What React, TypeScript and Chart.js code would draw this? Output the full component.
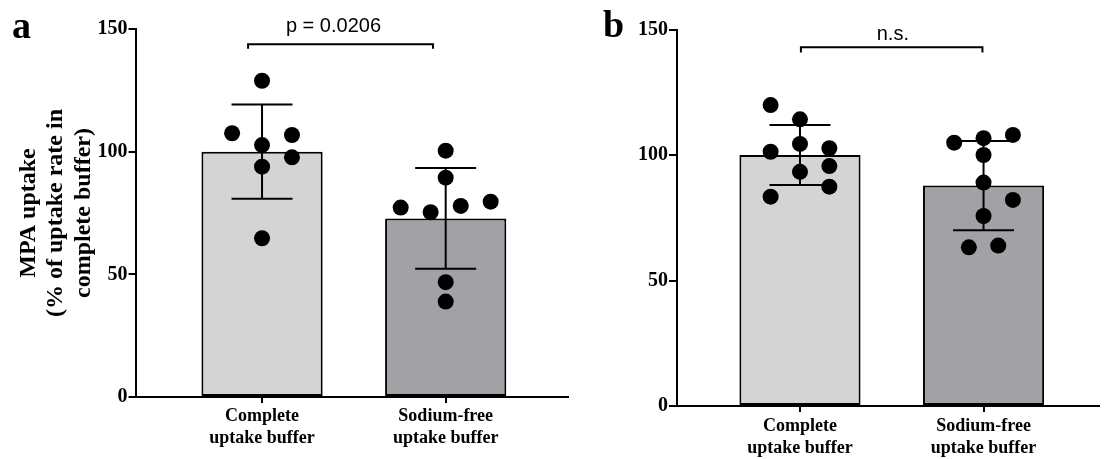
import React, { useEffect, useRef } from "react";
import { Chart, registerables } from "chart.js";

Chart.register(...registerables);

// ---------- data ----------
const categoryLabels = [
  ["Complete", "uptake buffer"],
  ["Sodium-free", "uptake buffer"],
];
const yTickValues = [0, 50, 100, 150];
const barColors = ["#d4d4d4", "#a2a2a6"];
const yTitleA = ["MPA uptake", "(% of uptake rate in", "complete buffer)"];

// Panel a
const meanA = [100, 72.8];
const sdA = [19.2, 20.5];
const completeA = [128.9, 107.5, 106.8, 102.7, 97.7, 93.9, 64.7];
const completeAJitter = [0, -0.163, 0.163, 0, 0.163, 0, 0];
const sodiumFreeA = [100.4, 89.4, 77.2, 75.3, 77.9, 79.6, 46.8, 38.9];
const sodiumFreeAJitter = [0, 0, -0.245, -0.082, 0.082, 0.245, 0, 0];
const statLabelA = "p = 0.0206";

// Panel b
const meanB = [100, 87.8];
const sdB = [12, 17.8];
const completeB = [119.9, 114.2, 104.4, 101.3, 102.7, 95.6, 93.3, 87.4, 83.4];
const completeBJitter = [-0.16, 0, 0, -0.16, 0.16, 0.16, 0, 0.16, -0.16];
const sodiumFreeB = [104.9, 106.7, 108.0, 100.0, 89.0, 82.1, 75.7, 63.2, 63.9];
const sodiumFreeBJitter = [-0.16, 0, 0.16, 0, 0, 0.16, 0, -0.08, 0.08];
const statLabelB = "n.s.";

const SERIF = "'Liberation Serif', 'Times New Roman', serif";
const SANS = "'Liberation Sans', Arial, sans-serif";

const annotPlugin = {
  id: "annot",
  afterDatasetDraw(chart: any, args: any, opts: any) {
    if (args.index !== 0) return;
    const { ctx } = chart;
    const x = chart.scales.x;
    const y = chart.scales.y;
    ctx.save();
    ctx.strokeStyle = "#000";
    ctx.lineWidth = 2;
    opts.means.forEach((m: number, i: number) => {
      const cx = x.getPixelForValue(i);
      const top = y.getPixelForValue(m + opts.sds[i]);
      const bot = y.getPixelForValue(m - opts.sds[i]);
      const hw = x.getPixelForValue(i + opts.capHalf) - cx;
      ctx.beginPath();
      ctx.moveTo(cx, top);
      ctx.lineTo(cx, bot);
      ctx.moveTo(cx - hw, top);
      ctx.lineTo(cx + hw, top);
      ctx.moveTo(cx - hw, bot);
      ctx.lineTo(cx + hw, bot);
      ctx.stroke();
    });
    ctx.restore();
  },
  afterDraw(chart: any, _args: any, opts: any) {
    const { ctx } = chart;
    const x = chart.scales.x;
    const y = chart.scales.y;
    const b = opts.bracket;
    ctx.save();
    ctx.strokeStyle = "#000";
    ctx.lineWidth = 2;
    const x1 = x.getPixelForValue(b.from);
    const x2 = x.getPixelForValue(b.to);
    const yy = y.getPixelForValue(b.y);
    const yd = y.getPixelForValue(b.yEnd);
    ctx.beginPath();
    ctx.moveTo(x1, yd);
    ctx.lineTo(x1, yy);
    ctx.lineTo(x2, yy);
    ctx.lineTo(x2, yd);
    ctx.stroke();
    ctx.fillStyle = "#000";
    ctx.font = `20px ${SANS}`;
    ctx.textAlign = "center";
    ctx.textBaseline = "alphabetic";
    ctx.fillText(b.label, x.getPixelForValue(b.labelX), y.getPixelForValue(b.labelY));
    ctx.font = `bold 38px ${SERIF}`;
    ctx.textAlign = "left";
    ctx.fillText(opts.letter, opts.letterX, opts.letterY);
    ctx.restore();
  },
};

function makeConfig(p: any) {
  return {
    type: "bar",
    data: {
      datasets: [
        {
          type: "bar",
          order: 2,
          data: p.means.map((m: number, i: number) => ({ x: i, y: m })),
          backgroundColor: barColors,
          borderColor: "#000",
          borderWidth: 2,
          borderSkipped: false,
          barPercentage: 0.66,
          categoryPercentage: 1,
        },
        {
          type: "scatter",
          order: 1,
          data: p.groups.flatMap((g: number[], gi: number) =>
            g.map((v, k) => ({ x: gi + p.jitters[gi][k], y: v }))
          ),
          pointRadius: 8,
          pointBackgroundColor: "#000",
          pointBorderWidth: 0,
          showLine: false,
        },
      ],
    },
    options: {
      responsive: false,
      animation: false,
      events: [],
      layout: { padding: { top: p.padTop, right: p.padRight, left: 0, bottom: 0 } },
      plugins: {
        legend: { display: false },
        tooltip: { enabled: false },
        annot: {
          means: p.means,
          sds: p.sds,
          capHalf: 0.166,
          bracket: p.bracket,
          letter: p.letter,
          letterX: p.letterX,
          letterY: p.letterY,
        },
      },
      scales: {
        x: {
          type: "linear",
          min: p.xMin,
          max: p.xMax,
          offset: false,
          afterBuildTicks: (s: any) => {
            s.ticks = [0, 1].map((v) => ({ value: v }));
          },
          afterFit: (s: any) => {
            s.height = p.xHeight;
          },
          grid: {
            drawOnChartArea: false,
            drawTicks: true,
            tickLength: 6,
            color: "#000",
            lineWidth: 2,
            offset: false,
          },
          border: { display: true, color: "#000", width: 2 },
          ticks: {
            color: "#000",
            autoSkip: false,
            maxRotation: 0,
            padding: p.xPad,
            font: { family: SERIF, size: 18, weight: "bold", lineHeight: 1.2 },
            callback: (v: number) => categoryLabels[v] ?? "",
          },
        },
        y: {
          type: "linear",
          min: 0,
          max: 150,
          afterBuildTicks: (s: any) => {
            s.ticks = yTickValues.map((v) => ({ value: v }));
          },
          afterFit: (s: any) => {
            s.width = p.yWidth;
          },
          grid: {
            drawOnChartArea: false,
            drawTicks: true,
            tickLength: p.yTickLen,
            color: "#000",
            lineWidth: 2,
          },
          border: { display: true, color: "#000", width: 2 },
          ticks: {
            color: "#000",
            padding: 1,
            font: { family: SERIF, size: 20, weight: "bold" },
          },
          title: {
            display: !!p.yTitle,
            text: p.yTitle || "",
            color: "#000",
            font: { family: SERIF, size: 24, weight: "bold", lineHeight: 1.146 },
            padding: { top: 15, bottom: 0 },
          },
        },
      },
    },
    plugins: [annotPlugin],
  };
}

const panelA = {
  means: meanA,
  sds: sdA,
  groups: [completeA, sodiumFreeA],
  jitters: [completeAJitter, sodiumFreeAJitter],
  xMin: -0.689,
  xMax: 1.666,
  xHeight: 62,
  yWidth: 135.5,
  yTickLen: 7,
  xPad: 3,
  padTop: 29,
  padRight: 12,
  yTitle: yTitleA,
  letter: "a",
  letterX: 12,
  letterY: 38,
  bracket: { from: -0.076, to: 0.931, y: 143.8, yEnd: 141.9, label: statLabelA, labelX: 0.389, labelY: 148.9 },
};

const panelB = {
  means: meanB,
  sds: sdB,
  groups: [completeB, sodiumFreeB],
  jitters: [completeBJitter, sodiumFreeBJitter],
  xMin: -0.67,
  xMax: 1.629,
  xHeight: 53,
  yWidth: 97,
  yTickLen: 8,
  xPad: 4,
  padTop: 29.5,
  padRight: 0,
  yTitle: null,
  letter: "b",
  letterX: 23,
  letterY: 36.7,
  bracket: { from: 0.005, to: 0.994, y: 142.9, yEnd: 140.8, label: statLabelB, labelX: 0.506, labelY: 145.8 },
};

function Panel({ params, left, width }: { params: any; left: number; width: number }) {
  const ref = useRef<HTMLCanvasElement>(null);
  useEffect(() => {
    if (!ref.current) return;
    const chart = new Chart(ref.current, makeConfig(params) as any);
    return () => chart.destroy();
  }, [params]);
  return (
    <canvas
      ref={ref}
      width={width}
      height={459}
      style={{ position: "absolute", left, top: 0, width, height: 459 }}
    />
  );
}

export default function App() {
  return (
    <div
      style={{
        position: "fixed",
        left: 0,
        top: 0,
        width: 1107,
        height: 459,
        background: "#fff",
        overflow: "hidden",
      }}
    >
      <Panel params={panelA} left={0} width={580} />
      <Panel params={panelB} left={580} width={527} />
    </div>
  );
}
